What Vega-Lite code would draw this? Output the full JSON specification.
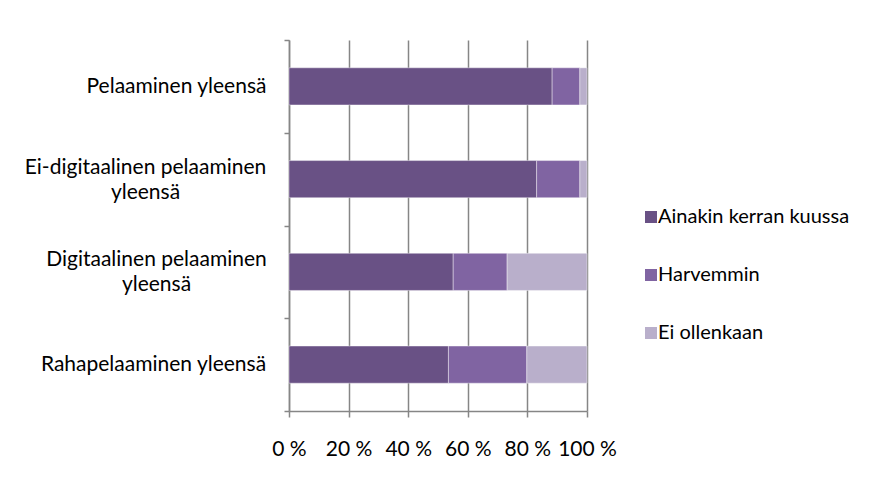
{
  "$schema": "https://vega.github.io/schema/vega-lite/v6.json",
  "width": 298,
  "height": 371,
  "autosize": {"type": "none"},
  "padding": {"left": 289, "top": 40, "right": 293, "bottom": 73},
  "background": "white",
  "data": {
    "values": [
      {"kategoria": "Pelaaminen yleensä", "vastaus": "Ainakin kerran kuussa", "jarj": 1, "osuus": 88.3},
      {"kategoria": "Pelaaminen yleensä", "vastaus": "Harvemmin", "jarj": 2, "osuus": 9.3},
      {"kategoria": "Pelaaminen yleensä", "vastaus": "Ei ollenkaan", "jarj": 3, "osuus": 2.4},
      {"kategoria": "Ei-digitaalinen pelaaminen yleensä", "vastaus": "Ainakin kerran kuussa", "jarj": 1, "osuus": 83.1},
      {"kategoria": "Ei-digitaalinen pelaaminen yleensä", "vastaus": "Harvemmin", "jarj": 2, "osuus": 14.5},
      {"kategoria": "Ei-digitaalinen pelaaminen yleensä", "vastaus": "Ei ollenkaan", "jarj": 3, "osuus": 2.4},
      {"kategoria": "Digitaalinen pelaaminen yleensä", "vastaus": "Ainakin kerran kuussa", "jarj": 1, "osuus": 55.1},
      {"kategoria": "Digitaalinen pelaaminen yleensä", "vastaus": "Harvemmin", "jarj": 2, "osuus": 18.1},
      {"kategoria": "Digitaalinen pelaaminen yleensä", "vastaus": "Ei ollenkaan", "jarj": 3, "osuus": 26.8},
      {"kategoria": "Rahapelaaminen yleensä", "vastaus": "Ainakin kerran kuussa", "jarj": 1, "osuus": 53.5},
      {"kategoria": "Rahapelaaminen yleensä", "vastaus": "Harvemmin", "jarj": 2, "osuus": 26.3},
      {"kategoria": "Rahapelaaminen yleensä", "vastaus": "Ei ollenkaan", "jarj": 3, "osuus": 20.2}
    ]
  },
  "mark": {"type": "bar", "height": {"band": 0.4}, "stroke": "white", "strokeWidth": 0.8, "strokeOpacity": 0.5},
  "encoding": {
    "y": {
      "field": "kategoria",
      "type": "nominal",
      "sort": ["Pelaaminen yleensä", "Ei-digitaalinen pelaaminen yleensä", "Digitaalinen pelaaminen yleensä", "Rahapelaaminen yleensä"],
      "scale": {"paddingInner": 0, "paddingOuter": 0},
      "axis": {
        "title": null,
        "tickBand": "extent",
        "tickSize": 5,
        "tickColor": "#868686",
        "tickWidth": 1.5,
        "domainColor": "#868686",
        "domainWidth": 1.5,
        "labelPadding": {
          "condition": [
            {"test": "datum.value == 'Pelaaminen yleensä'", "value": 108},
            {"test": "datum.value == 'Ei-digitaalinen pelaaminen yleensä'", "value": 139},
            {"test": "datum.value == 'Digitaalinen pelaaminen yleensä'", "value": 128}
          ],
          "value": 131
        },
        "labelOffset": {
          "condition": {"test": "datum.value == 'Ei-digitaalinen pelaaminen yleensä' || datum.value == 'Digitaalinen pelaaminen yleensä'", "value": -12},
          "value": 0
        },
        "labelAlign": "center",
        "labelFont": "Lato",
        "labelFontSize": 21,
        "labelColor": "#000000",
        "labelLineHeight": 25,
        "labelLimit": 400,
        "labelOverlap": false,
        "labelExpr": "datum.label == 'Ei-digitaalinen pelaaminen yleensä' ? ['Ei-digitaalinen pelaaminen', 'yleensä'] : datum.label == 'Digitaalinen pelaaminen yleensä' ? ['Digitaalinen pelaaminen', 'yleensä'] : datum.label"
      }
    },
    "x": {
      "field": "osuus",
      "type": "quantitative",
      "stack": "normalize",
      "scale": {"domain": [0, 1], "nice": false},
      "axis": {
        "title": null,
        "values": [0, 0.2, 0.4, 0.6, 0.8, 1],
        "labelExpr": "round(datum.value * 100) + ' %'",
        "labelOverlap": false,
        "labelFlush": false,
        "grid": true,
        "gridColor": "#868686",
        "gridWidth": 1.5,
        "tickSize": 6,
        "tickColor": "#868686",
        "tickWidth": 1.5,
        "domainColor": "#868686",
        "domainWidth": 1.5,
        "labelPadding": 21,
        "labelFont": "Lato",
        "labelFontSize": 21,
        "labelColor": "#000000"
      }
    },
    "color": {
      "field": "vastaus",
      "type": "nominal",
      "sort": ["Ainakin kerran kuussa", "Harvemmin", "Ei ollenkaan"],
      "scale": {"domain": ["Ainakin kerran kuussa", "Harvemmin", "Ei ollenkaan"], "range": ["#695185", "#8064a2", "#b9afcb"]},
      "legend": {
        "title": null,
        "orient": "none",
        "legendX": 352,
        "legendY": 167,
        "symbolType": "square",
        "symbolSize": 144,
        "symbolStrokeWidth": 0,
        "rowPadding": 38,
        "labelOffset": -3,
        "labelFont": "Lato",
        "labelFontSize": 20,
        "labelColor": "#000000",
        "labelLimit": 300
      }
    },
    "order": {"field": "jarj", "type": "quantitative"}
  },
  "config": {"view": {"stroke": null}}
}
